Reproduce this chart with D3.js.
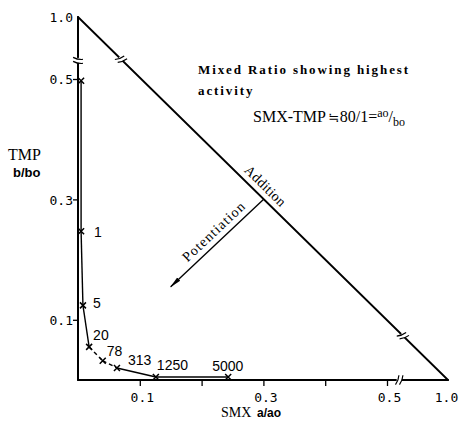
<!DOCTYPE html>
<html>
<head>
<meta charset="utf-8">
<script src="https://cdn.jsdelivr.net/npm/d3@7"></script>
<style>
body{margin:0;background:#fff;}
svg{display:block;}
.tick text{font-family:"DejaVu Sans Mono",monospace;font-size:13px;}
</style>
</head>
<body>
<script>
// isobologram of SMX + TMP, fractions of MIC, labelled by SMX/TMP ratio
const ratioLabels = ["", "1", "5", "20", "78", "313", "1250", "5000"];
const smxFrac = [0.005, 0.005, 0.008, 0.018, 0.040, 0.063, 0.126, 0.243];
const tmpFrac = [0.497, 0.247, 0.124, 0.055, 0.032, 0.020, 0.005, 0.005];
const segDashed = [false, false, false, true, true, false, false];

const xTicks = [0.1, 0.2, 0.3, 0.4, 0.5, 1.0];
const xTickLabels = ["0.1", "", "0.3", "", "0.5", "1.0"];
const yTicks = [0.1, 0.3, 0.5, 1.0];
const yTickLabels = ["0.1", "0.3", "0.5", "1.0"];

const W = 459, H = 428;
const svg = d3.select("body").append("svg").attr("width", W).attr("height", H);

// broken scales: linear up to 0.5, compressed to 1.0
const x = d3.scaleLinear().domain([0, 0.5, 1]).range([78, 387, 448]);
const y = d3.scaleLinear().domain([0, 0.5, 1]).range([380, 79, 17]);

// axes (ticks only, own lines drawn below)
const xAxis = d3.axisBottom(x).tickValues(xTicks).tickSize(6)
	.tickFormat(function(d, i){ return xTickLabels[i]; });
const gx = svg.append("g").attr("transform", "translate(0," + y(0) + ")").call(xAxis);
gx.select(".domain").remove();
gx.selectAll(".tick line").attr("stroke-width", 1.3).attr("display", function(d){ return d == 1 ? "none" : null; });
gx.selectAll(".tick text").attr("y", 22).attr("dy", 0)
	.attr("dx", function(d){ return d == 1 ? -2 : 2; }).attr("fill", "#000");

const yAxis = d3.axisLeft(y).tickValues(yTicks).tickSize(5)
	.tickFormat(function(d, i){ return yTickLabels[i]; });
const gy = svg.append("g").attr("transform", "translate(" + x(0) + ",0)").call(yAxis);
gy.select(".domain").remove();
gy.selectAll(".tick line").attr("stroke-width", 1.3).attr("display", function(d){ return d == 1 ? "none" : null; });
gy.selectAll(".tick text").attr("x", -5).attr("dy", "0.38em").attr("fill", "#000");

// triangle: axes + addition line
const lines = svg.append("g").attr("stroke", "#000").attr("fill", "none").attr("stroke-linecap", "round");
lines.append("line").attr("x1", x(0)).attr("y1", y(0)).attr("x2", x(1)).attr("y2", y(0)).attr("stroke-width", 2);
lines.append("line").attr("x1", x(0)).attr("y1", y(0)).attr("x2", x(0)).attr("y2", y(1)).attr("stroke-width", 2);
lines.append("line").attr("x1", x(0)).attr("y1", y(1)).attr("x2", x(1)).attr("y2", y(0)).attr("stroke-width", 1.8);

// point on the addition line at a given pixel x / y
const diag = {x0: x(0), y0: y(1), x1: x(1), y1: y(0)};
const diagAngle = Math.atan2(diag.y1 - diag.y0, diag.x1 - diag.x0) * 180 / Math.PI;
function onDiagX(px){ const t = (px - diag.x0) / (diag.x1 - diag.x0); return [px, diag.y0 + t * (diag.y1 - diag.y0)]; }
function onDiagY(py){ const t = (py - diag.y0) / (diag.y1 - diag.y0); return [diag.x0 + t * (diag.x1 - diag.x0), py]; }

// axis break marks
function drawBreak(cx, cy, lineAngle, markAngle){
	const g = svg.append("g").attr("transform", "translate(" + cx + "," + cy + ") rotate(" + lineAngle + ")");
	g.append("line").attr("x1", -2.5).attr("x2", 2.5).attr("stroke", "#fff").attr("stroke-width", 4);
	[-2, 2].forEach(function(o){
		g.append("path")
			.attr("d", "M" + o + ",-5Q" + (o + 1.5) + ",0 " + o + ",5")
			.attr("transform", "translate(" + o + ",0) rotate(" + markAngle + ") translate(" + (-o) + ",0)")
			.attr("fill", "none").attr("stroke", "#000").attr("stroke-width", 1.2);
	});
}
drawBreak(x(0), y(0.65), 90, 12);
drawBreak(x(0.6), y(0), 0, 20);
let p = onDiagY(y(0.66));
drawBreak(p[0], p[1], diagAngle, 25);
p = onDiagX(x(0.63));
drawBreak(p[0], p[1], diagAngle, 25);

// isobole
const pts = smxFrac.map(function(v, i){ return {x: x(v), y: y(tmpFrac[i]), label: ratioLabels[i]}; });
const curve = svg.append("g").attr("stroke", "#000").attr("fill", "none");
segDashed.forEach(function(dashed, i){
	curve.append("line")
		.attr("x1", pts[i].x).attr("y1", pts[i].y)
		.attr("x2", pts[i + 1].x).attr("y2", pts[i + 1].y)
		.attr("stroke-width", 1.4)
		.attr("stroke-dasharray", dashed ? "4,3" : null);
});
const mk = svg.append("g").attr("stroke", "#000").attr("stroke-width", 1.5);
pts.forEach(function(d){
	mk.append("path").attr("d", "M" + (d.x - 3) + "," + (d.y - 3) + "L" + (d.x + 3) + "," + (d.y + 3) +
		"M" + (d.x - 3) + "," + (d.y + 3) + "L" + (d.x + 3) + "," + (d.y - 3));
});
// label nudges (dx, dy of baseline from marker)
const labelNudge = [[0, 0], [13, 6], [10, 3], [4, -7], [4, -5], [11, -3], [1, -7], [-16, -6]];
svg.append("g").selectAll("text").data(pts).enter().append("text")
	.attr("x", function(d, i){ return d.x + labelNudge[i][0]; })
	.attr("y", function(d, i){ return d.y + labelNudge[i][1]; })
	.attr("font-family", "Liberation Sans, Arial, sans-serif")
	.attr("font-size", 14)
	.text(function(d){ return d.label; });

// axis titles
svg.append("text").attr("x", 8).attr("y", 160).attr("font-family", "Liberation Serif, serif").attr("font-size", 16).text("TMP");
svg.append("text").attr("x", 13).attr("y", 177).attr("font-family", "Liberation Sans, sans-serif").attr("font-weight", "bold").attr("font-size", 13).text("b/bo");
svg.append("text").attr("x", 221).attr("y", 417).attr("font-family", "Liberation Serif, serif").attr("font-size", 14).text("SMX");
svg.append("text").attr("x", 257).attr("y", 417).attr("font-family", "Liberation Sans, sans-serif").attr("font-weight", "bold").attr("font-size", 12).text("a/ao");

// annotation
const note = svg.append("g").attr("font-family", "Liberation Serif, serif").attr("font-weight", "bold").attr("font-size", 13).attr("letter-spacing", 1.9);
note.append("text").attr("x", 198).attr("y", 74).text("Mixed Ratio showing highest");
note.append("text").attr("x", 198).attr("y", 95).text("activity");
const eq = svg.append("text").attr("x", 253).attr("y", 122).attr("font-family", "Liberation Serif, serif").attr("font-size", 16);
eq.append("tspan").text("SMX-TMP");
eq.append("tspan").attr("font-family", "DejaVu Sans, sans-serif").attr("font-size", 13).attr("dx", 2).text("≒");
eq.append("tspan").attr("dx", 1).text("80/1=");
eq.append("tspan").attr("font-size", 12).attr("dy", -5).text("ao");
eq.append("tspan").attr("dy", 5).text("/");
eq.append("tspan").attr("font-size", 12).attr("dy", 4).text("bo");

// addition label along the line
p = onDiagX(x(0.291));
svg.append("text")
	.attr("transform", "translate(" + p[0] + "," + p[1] + ") rotate(" + diagAngle + ")")
	.attr("y", -6).attr("text-anchor", "middle")
	.attr("font-family", "Liberation Serif, serif").attr("font-size", 14)
	.attr("textLength", 52).text("Addition");

// potentiation arrow
const arrowFrom = [0.30, 0.30], arrowTo = [0.15, 0.155];
svg.append("defs").append("marker").attr("id", "ah")
	.attr("viewBox", "0 0 12 6").attr("refX", 11).attr("refY", 3)
	.attr("markerWidth", 12).attr("markerHeight", 6).attr("markerUnits", "userSpaceOnUse")
	.attr("orient", "auto")
	.append("path").attr("d", "M0,0.8L12,3L0,5.2Z").attr("fill", "#000");
const ax1 = x(arrowFrom[0]), ay1 = y(arrowFrom[1]), ax2 = x(arrowTo[0]), ay2 = y(arrowTo[1]);
svg.append("line").attr("x1", ax1).attr("y1", ay1).attr("x2", ax2).attr("y2", ay2)
	.attr("stroke", "#000").attr("stroke-width", 1.4).attr("marker-end", "url(#ah)");
const pa = [ax1 + 0.46 * (ax2 - ax1), ay1 + 0.46 * (ay2 - ay1)];
const arrowAngle = Math.atan2(ay1 - ay2, ax1 - ax2) * 180 / Math.PI;
svg.append("text")
	.attr("transform", "translate(" + pa[0] + "," + pa[1] + ") rotate(" + arrowAngle + ")")
	.attr("y", -6).attr("text-anchor", "middle")
	.attr("font-family", "Liberation Serif, serif").attr("font-size", 14)
	.attr("textLength", 80).text("Potentiation");
</script>
</body>
</html>
